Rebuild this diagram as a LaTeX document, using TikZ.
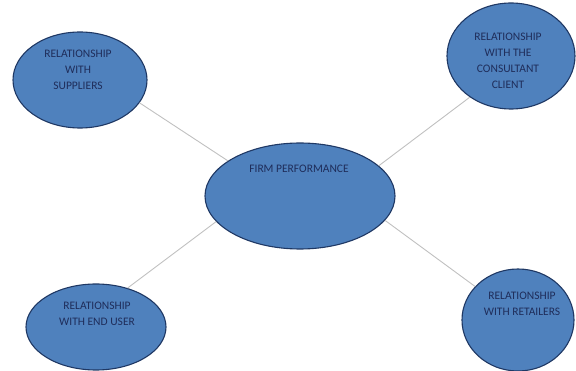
\documentclass[tikz,border=0pt]{standalone}
\usepackage{fontspec}
\setmainfont{Carlito}
\usetikzlibrary{shapes.geometric}
\definecolor{bubblefill}{HTML}{4F81BD}
\definecolor{bubbleline}{HTML}{1F3864}
\definecolor{bubbletext}{HTML}{1F2D5A}
\definecolor{linkgray}{HTML}{C0C0C0}
\begin{document}
\begin{tikzpicture}[x=1pt, y=-1pt,
        bubble/.style={ellipse, draw=bubbleline, fill=bubblefill, line width=1.1pt, inner sep=0pt},
        caption/.style={align=center, text=bubbletext, font=\fontsize{11.5}{16}\selectfont},
        link/.style={draw=linkgray, line width=0.9pt}]
        \useasboundingbox (0,0) rectangle (576,371);

        % Bubbles
        \node[bubble, minimum width=134pt, minimum height=96pt] (suppliers) at (80,80) {};
        \node[bubble, minimum width=128pt, minimum height=106pt] (consultant) at (511,56) {};
        \node[bubble, minimum width=190pt, minimum height=106pt] (firm) at (300,196) {};
        \node[bubble, minimum width=140pt, minimum height=86pt] (enduser) at (96,327) {};
        \node[bubble, minimum width=112pt, minimum height=102pt] (retailers) at (518,320) {};

        % Texts
        \node[caption] (suppliers text) at (78,70) {RELATIONSHIP\\WITH\\SUPPLIERS};
        \node[caption] (consultant text) at (508,61) {RELATIONSHIP\\WITH THE\\CONSULTANT\\CLIENT};
        \node[caption] (firm text) at (299,169) {FIRM PERFORMANCE};
        \node[caption] (enduser text) at (97,314) {RELATIONSHIP\\WITH END USER};
        \node[caption] (retailers text) at (522,304) {RELATIONSHIP\\WITH RETAILERS};

        % Links to the centre
        \draw[link] (suppliers.-21.6) -- (firm.154.9);
        \draw[link] (consultant.225.6) -- (firm.21.2);
        \draw[link] (retailers.142.2) -- (firm.-16.5);
        \draw[link] (enduser.51) -- (firm.197.2);
    \end{tikzpicture}
\end{document}
